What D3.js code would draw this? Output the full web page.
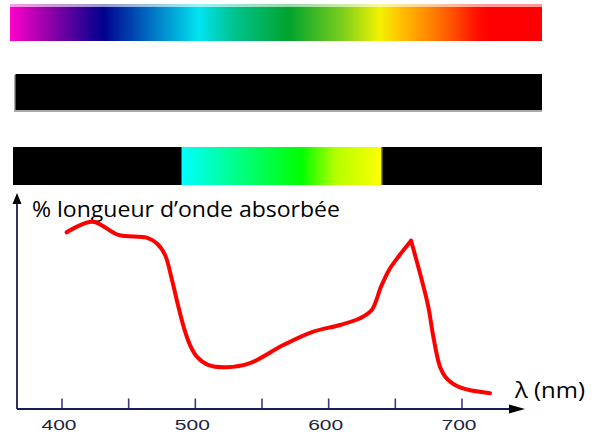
<!DOCTYPE html>
<html>
<head>
<meta charset="utf-8">
<script src="https://cdn.jsdelivr.net/npm/d3@7/dist/d3.min.js"></script>
<style>
  html, body { margin: 0; padding: 0; background: #fff; }
  svg { display: block; }
</style>
</head>
<body>
<svg id="chart" width="600" height="434"></svg>
<script>
// ---- Data ----
const wavelengths = [403.5, 423, 442.2, 463.5, 471, 477.3, 482.5, 487, 491.5, 496, 501.3, 509.5, 523.5, 541, 566, 588.5, 608.5, 623.5, 632.3, 639.3, 645.3, 652.4, 661.8, 668.5, 674.7, 678.5, 683.5, 688.5, 698.5, 721];
const absorbance  = [81.8, 86.7, 80.6, 79.3, 76.7, 71.3, 59.7, 48.1, 37.5, 29.6, 24.1, 20.4, 19.3, 21.2, 29.6, 35.8, 38.9, 42.0, 45.8, 56.7, 64.4, 70.6, 77.9, 62.8, 47.4, 33.5, 19.6, 14.2, 10.0, 7.3];
const minorTicks = [400, 450, 500, 550, 600, 650, 700];
const tickLabels = ["400", "500", "600", "700"];
const yTitle = "% longueur d’onde absorbée";
const xTitle = "λ (nm)";
// spectrum bar (positions along bar 0..1) and colours
const spectrumOffsets = [0, 0.075, 0.175, 0.245, 0.355, 0.42, 0.525, 0.625, 0.695, 0.735, 0.79, 0.835, 0.875, 0.9, 1];
const spectrumColors  = ["#ff00cc", "#9000a8", "#00008f", "#0058b8", "#00e4f0", "#00c390", "#00a32c", "#7ccf1c", "#f2f200", "#ffc000", "#ff8400", "#ff4c00", "#ff1200", "#ff0000", "#ff0000"];
// transmitted band bar
const bandOffsets = [0, 0.18, 0.6, 0.77, 1];
const bandColors  = ["#00ffff", "#00ffb0", "#00ff00", "#b4ff00", "#ffff00"];

// ---- Layout ----
const svg = d3.select("#chart");
const x = d3.scaleLinear().domain([400, 700]).range([62, 462]);
const y = d3.scaleLinear().domain([0, 100]).range([409, 193]);
const bx = d3.scaleLinear().domain([0, 1]).range([10, 542]);

const defs = svg.append("defs");
const g1 = defs.append("linearGradient").attr("id", "spec").attr("x1", 0).attr("x2", 1).attr("y1", 0).attr("y2", 0);
g1.selectAll("stop").data(spectrumOffsets).join("stop")
  .attr("offset", d => d).attr("stop-color", (d, i) => spectrumColors[i]);
const g2 = defs.append("linearGradient").attr("id", "band").attr("x1", 0).attr("x2", 1).attr("y1", 0).attr("y2", 0);
g2.selectAll("stop").data(bandOffsets).join("stop")
  .attr("offset", d => d).attr("stop-color", (d, i) => bandColors[i]);

// Bar 1: spectrum
svg.append("rect").attr("x", bx(0)).attr("y", 4).attr("width", bx(1) - bx(0)).attr("height", 37)
  .attr("fill", "url(#spec)");
svg.append("rect").attr("x", bx(0)).attr("y", 4).attr("width", bx(1) - bx(0)).attr("height", 3)
  .attr("fill", "#fff").attr("opacity", 0.6);

// Bar 2: all black (with faint shadow)
svg.append("rect").attr("x", 14).attr("y", 75).attr("width", 528).attr("height", 37).attr("fill", "#aaa");
svg.append("rect").attr("x", 15.5).attr("y", 74).attr("width", 526.5).attr("height", 36).attr("fill", "#000");

// Bar 3: black with transmitted band
svg.append("rect").attr("x", 13).attr("y", 147).attr("width", 529).attr("height", 38).attr("fill", "#000");
svg.append("rect").attr("x", 181.5).attr("y", 147).attr("width", 200).attr("height", 38).attr("fill", "url(#band)");
svg.append("rect").attr("x", 381.5).attr("y", 147).attr("width", 1).attr("height", 38).attr("fill", "#8a8a00");

// ---- Axes ----
const axisColor = "#1c1c55";
svg.append("line").attr("x1", 17).attr("x2", 17).attr("y1", y(0)).attr("y2", 201)
  .attr("stroke", axisColor).attr("stroke-width", 1.8);
svg.append("line").attr("x1", 17).attr("x2", 512).attr("y1", y(0)).attr("y2", y(0))
  .attr("stroke", axisColor).attr("stroke-width", 1.8);
svg.append("path").attr("d", "M17,193 L12.5,204 L21.5,204 Z").attr("fill", "#000");
svg.append("path").attr("d", "M525,409 L509,404.5 L509,413.5 Z").attr("fill", "#000");

svg.selectAll("line.tick").data(minorTicks).join("line").attr("class", "tick")
  .attr("x1", d => x(d)).attr("x2", d => x(d)).attr("y1", 398.5).attr("y2", 408)
  .attr("stroke", "#3a3a8c").attr("stroke-width", 1.6);

svg.selectAll("text.tl").data(tickLabels).join("text").attr("class", "tl")
  .attr("x", d => x(+d) - 3).attr("y", 430)
  .attr("text-anchor", "middle")
  .attr("font-family", "Liberation Sans, Arial, sans-serif").attr("font-size", 14)
  .attr("textLength", 35).attr("lengthAdjust", "spacingAndGlyphs")
  .attr("fill", "#1e2440").text(d => d);

svg.append("text").attr("x", 32).attr("y", 216.5)
  .attr("font-family", "Open Sans, Noto Sans, sans-serif").attr("font-size", 21)
  .attr("textLength", 308).attr("lengthAdjust", "spacingAndGlyphs")
  .attr("fill", "#000").text(yTitle);

svg.append("text").attr("x", 515).attr("y", 398)
  .attr("font-family", "Open Sans, Noto Sans, sans-serif").attr("font-size", 22)
  .attr("textLength", 70).attr("lengthAdjust", "spacingAndGlyphs")
  .attr("fill", "#000").text(xTitle);

// ---- Curve (split at the red-band peak so that it stays sharp) ----
const pts = wavelengths.map((w, i) => [w, absorbance[i]]);
const redIdx = pts.map((p, i) => i).filter(i => pts[i][0] > 640);
const peakIdx = redIdx.reduce((a, b) => (pts[b][1] > pts[a][1] ? b : a));
const line = d3.line().x(d => x(d[0])).y(d => y(d[1])).curve(d3.curveCatmullRom.alpha(0.5));
[pts.slice(0, peakIdx + 1), pts.slice(peakIdx)].forEach(seg => {
  svg.append("path").attr("d", line(seg)).attr("fill", "none")
    .attr("stroke", "#ff0000").attr("stroke-width", 4)
    .attr("stroke-linejoin", "round").attr("stroke-linecap", "round");
});
</script>
</body>
</html>
